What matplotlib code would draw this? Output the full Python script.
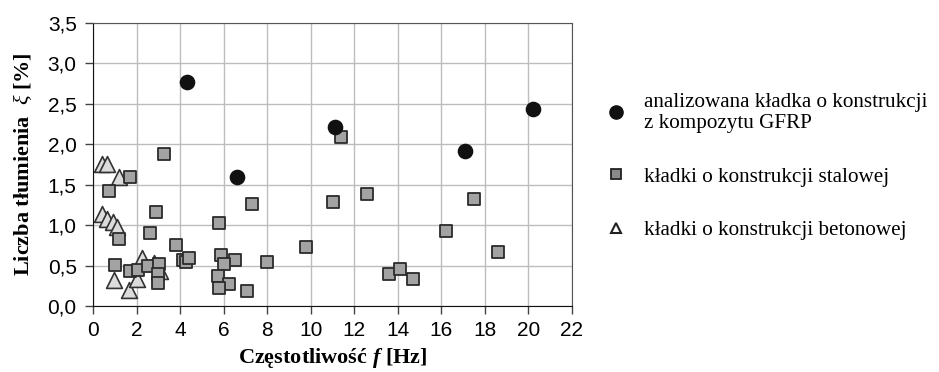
# wykres liczby tłumienia w funkcji częstotliwości dla kładek

import matplotlib
matplotlib.use('Agg')
import matplotlib.pyplot as plt
from matplotlib.lines import Line2D
from matplotlib.ticker import FuncFormatter

plt.rcParams['font.family'] = 'Liberation Sans'
plt.rcParams['mathtext.fontset'] = 'custom'
plt.rcParams['mathtext.rm'] = 'Liberation Serif'
plt.rcParams['mathtext.it'] = 'Liberation Serif:italic'
plt.rcParams['mathtext.bf'] = 'Liberation Serif:bold'
plt.rcParams['mathtext.bfit'] = 'Liberation Serif:italic:bold'

# analizowana kładka GFRP
gfrp_f = [4.3, 6.6, 11.1, 17.1, 20.2]
gfrp_xi = [2.77, 1.59, 2.21, 1.91, 2.43]

# kładki stalowe
stal_f = [3.25, 1.7, 0.7, 2.9, 7.3, 5.8, 2.6, 1.2, 3.8, 9.8,
          4.1, 4.25, 4.4, 5.85, 6.5, 6.0, 8.0, 5.75, 6.25, 5.8,
          7.05, 1.0, 1.7, 2.04, 2.53, 3.02, 2.96, 2.96,
          11.4, 11.0, 12.6, 17.5, 16.2, 18.6, 13.6, 14.1, 14.7]
stal_xi = [1.88, 1.6, 1.42, 1.16, 1.26, 1.03, 0.90, 0.83, 0.76, 0.73,
           0.57, 0.55, 0.60, 0.63, 0.57, 0.52, 0.55, 0.37, 0.27, 0.22,
           0.19, 0.51, 0.43, 0.45, 0.49, 0.52, 0.40, 0.29,
           2.09, 1.28, 1.39, 1.32, 0.93, 0.67, 0.40, 0.46, 0.33]

# kładki betonowe
beton_f = [0.4, 0.65, 1.2, 0.4, 0.65, 0.89, 1.1, 0.95, 1.62, 2.0, 2.22, 2.8, 3.08]
beton_xi = [1.75, 1.76, 1.6, 1.14, 1.08, 1.04, 0.98, 0.32, 0.20, 0.33, 0.59, 0.535, 0.44]

labels = ['analizowana kładka o konstrukcji\nz kompozytu GFRP',
          'kładki o konstrukcji stalowej',
          'kładki o konstrukcji betonowej']

fig = plt.figure(figsize=(9.39, 3.72), dpi=100)
ax = fig.add_axes([0.0994, 0.177, 0.5096, 0.762])

ax.scatter(beton_f, beton_xi, marker='^', s=130, facecolor='#dcdcdc',
           edgecolor='#333333', linewidth=1.2, zorder=3)
ax.scatter(stal_f, stal_xi, marker='s', s=72, facecolor='#a3a3a3',
           edgecolor='#2b2b2b', linewidth=1.3, zorder=3)
ax.scatter(gfrp_f, gfrp_xi, marker='o', s=105, facecolor='#111111',
           edgecolor='#111111', zorder=4)

ax.set_xlim(0, 22)
ax.set_ylim(0, 3.5)
ax.set_xticks(range(0, 23, 2))
ax.set_yticks([i * 0.5 for i in range(8)])
ax.yaxis.set_major_formatter(FuncFormatter(lambda v, p: f'{v:.1f}'.replace('.', ',')))
ax.tick_params(labelsize=15, length=6, width=1, color='#444444')
ax.tick_params(axis='y', pad=6)
ax.tick_params(axis='x', pad=5)
ax.grid(True, color='#bdbdbd', linewidth=1)
ax.set_axisbelow(True)
for side in ['left', 'bottom']:
    ax.spines[side].set_color('#111111')
for side in ['top', 'right']:
    ax.spines[side].set_color('#555555')

ax.set_xlabel(r'Częstotliwość $\mathbfit{f}$ [Hz]', family='Liberation Serif',
              fontweight='bold', fontsize=16, labelpad=4)
ax.set_ylabel(r'Liczba tłumienia  $\xi$ [%]', family='Liberation Serif',
              fontweight='bold', fontsize=16, labelpad=10)

handles = [Line2D([], [], linestyle='none', marker='o', markersize=9.5,
                  markerfacecolor='#111111', markeredgecolor='#111111'),
           Line2D([], [], linestyle='none', marker='s', markersize=6.5,
                  markerfacecolor='#8a8a8a', markeredgecolor='#222222', markeredgewidth=1.3),
           Line2D([], [], linestyle='none', marker='^', markersize=7,
                  markerfacecolor='white', markeredgecolor='#222222', markeredgewidth=1.5)]
leg = fig.legend(handles, labels, loc='upper left', bbox_to_anchor=(0.635, 0.778),
                 frameon=False, prop={'family': 'Liberation Serif', 'size': 15.2},
                 handlelength=0.9, handletextpad=0.85, labelspacing=1.62, borderpad=0)
for t in leg.get_texts():
    t.set_linespacing(1.1)

plt.savefig('out.png', dpi=100)
